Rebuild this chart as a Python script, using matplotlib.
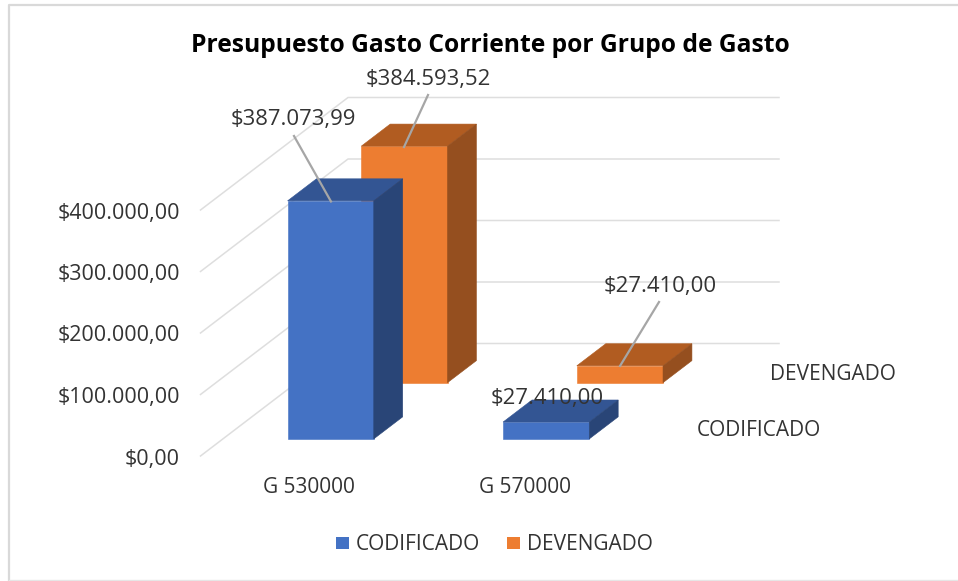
import matplotlib
matplotlib.use('Agg')
import matplotlib.pyplot as plt
from matplotlib.patches import Polygon, Rectangle

plt.rcParams['font.family'] = ['Open Sans', 'DejaVu Sans']

# Data
categories = ['G 530000', 'G 570000']
series_names = ['CODIFICADO', 'DEVENGADO']
codificado = [387073.99, 27410.00]
devengado = [384593.52, 27410.00]
y_ticks = [0, 100000, 200000, 300000, 400000]

# Excel style 3D box, worked out in figure pixels (y goes down)
ORIGIN_X = 200.5
ORIGIN_Y = 456.0
CAT_W = 215.5
DEPTH_X = 147.5
DEPTH_Y = 112.5
PX_PER_UNIT = 61.5 / 100000
BAR_W = 0.4
BAR_D = 0.196

TEXT_COL = '#333333'
GRID_COL = '#dedede'
LEADER_COL = '#a6a6a6'
FONT = 15.5
FONT_LABEL = 15.9
FONT_SMALL = 15.0


def project(c, d, v):
    # c = category position, d = depth 0..1, v = value
    return (ORIGIN_X + c * CAT_W + d * DEPTH_X,
            ORIGIN_Y - v * PX_PER_UNIT - d * DEPTH_Y)


def money(v):
    s = f'{v:,.2f}'
    return '$' + s.replace(',', '#').replace('.', ',').replace('#', '.')


def draw_bar(ax, cat, depth_mid, value, front, top, side):
    c0 = cat + 0.5 - BAR_W / 2
    c1 = cat + 0.5 + BAR_W / 2
    d0 = depth_mid - BAR_D / 2
    d1 = depth_mid + BAR_D / 2
    faces = [
        ([(c0, d0, 0), (c1, d0, 0), (c1, d0, value), (c0, d0, value)], front),
        ([(c0, d0, value), (c1, d0, value), (c1, d1, value), (c0, d1, value)], top),
        ([(c1, d0, 0), (c1, d1, 0), (c1, d1, value), (c1, d0, value)], side),
    ]
    for corners, col in faces:
        pts = [project(*p) for p in corners]
        ax.add_patch(Polygon(pts, closed=True, facecolor=col, edgecolor=col, lw=0.4, zorder=3))


fig = plt.figure(figsize=(9.58, 5.81), dpi=100)
ax = fig.add_axes([0, 0, 1, 1])
ax.set_xlim(0, 958)
ax.set_ylim(581, 0)
ax.axis('off')

# chart frame, the bottom edge is fainter in the screenshot
ax.plot([958, 9.5, 9.5], [4.5, 4.5, 581], color='#d9d9d9', lw=1.6, zorder=1)
ax.plot([9.5, 958], [580, 580], color='#e6e6e6', lw=1.0, zorder=1)

# gridlines: diagonal on the side wall, flat on the back wall
for t in y_ticks:
    x0, y0 = project(0, 0, t)
    x1, y1 = project(0, 1, t)
    x2, y2 = project(2, 1, t)
    ax.plot([x0, x1, x2], [y0, y1, y2], color=GRID_COL, lw=1.1, zorder=2)
    ax.text(180, y0 + 3.0, money(t), ha='right', va='center', fontsize=FONT, color=TEXT_COL)

# bars, back row first
for i in range(len(categories)):
    draw_bar(ax, i, 0.75, devengado[i], '#ED7D31', '#B15C21', '#954F1F')
for i in range(len(categories)):
    draw_bar(ax, i, 0.25, codificado[i], '#4472C4', '#335593', '#294577')

# leader lines
ax.plot([294, 331], [136, 201.5], color=LEADER_COL, lw=1.6, zorder=4)
ax.plot([428, 404], [95, 147], color=LEADER_COL, lw=1.6, zorder=4)
ax.plot([659, 620], [302, 366], color=LEADER_COL, lw=1.6, zorder=4)

# data labels
ax.text(293.5, 119.5, money(codificado[0]), ha='center', va='center', fontsize=FONT_LABEL, color=TEXT_COL, zorder=5)
ax.text(428, 79.5, money(devengado[0]), ha='center', va='center', fontsize=FONT_LABEL, color=TEXT_COL, zorder=5)
ax.text(547, 398.5, money(codificado[1]), ha='center', va='center', fontsize=FONT_LABEL, color=TEXT_COL, zorder=5)
ax.text(660, 286.5, money(devengado[1]), ha='center', va='center', fontsize=FONT_LABEL, color=TEXT_COL, zorder=5)

# category and series axis labels
ax.text(309, 487.5, categories[0], ha='center', va='center', fontsize=FONT_SMALL, color=TEXT_COL)
ax.text(525, 487.5, categories[1], ha='center', va='center', fontsize=FONT_SMALL, color=TEXT_COL)
ax.text(697, 430.5, series_names[0], ha='left', va='center', fontsize=FONT_SMALL, color=TEXT_COL)
ax.text(770.5, 374.5, series_names[1], ha='left', va='center', fontsize=FONT_SMALL, color=TEXT_COL)

# legend
ax.add_patch(Rectangle((336, 536.5), 13, 12.5, facecolor='#4472C4', edgecolor='none'))
ax.text(356, 544, series_names[0], ha='left', va='center', fontsize=FONT_SMALL, color=TEXT_COL)
ax.add_patch(Rectangle((507, 536.5), 13.5, 12.5, facecolor='#ED7D31', edgecolor='none'))
ax.text(527, 544, series_names[1], ha='left', va='center', fontsize=FONT_SMALL, color=TEXT_COL)

# title
ax.text(490, 45.5, 'Presupuesto Gasto Corriente por Grupo de Gasto', ha='center', va='center',
        fontsize=17.7, fontweight='bold', color='black')

fig.savefig('out.png', dpi=100)
